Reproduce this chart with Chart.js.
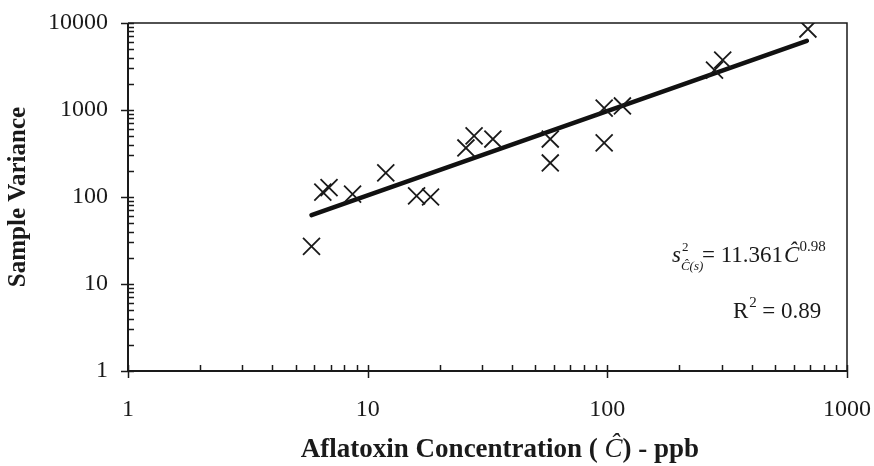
<!DOCTYPE html>
<html>
<head>
<meta charset="utf-8">
<script src="https://cdn.jsdelivr.net/npm/chart.js@4.4.1/dist/chart.umd.min.js"></script>
<style>
  html, body { margin: 0; padding: 0; background: #fff; }
  #wrap { width: 874px; height: 466px; position: relative; }
</style>
</head>
<body>
<div id="wrap"><canvas id="grafico"></canvas></div>
<script>
// puntos
const concentracion = [5.83, 6.5, 6.9, 8.65, 11.9, 16.0, 18.3, 25.7, 27.8, 33.3, 57.8, 57.8, 97, 97, 115.6, 280, 303, 687];
const varianza = [27, 114, 128, 108, 189, 103, 100, 366, 503, 464, 464, 246, 1053, 418, 1112, 2880, 3756, 8530];

// recta de ajuste (extremos leidos)
const ajusteX = [5.83, 680];
const ajusteY = [62, 6250];

const ticksX = [1, 10, 100, 1000];
const ticksY = [1, 10, 100, 1000, 10000];

const serif = '"Liberation Serif", "Times New Roman", serif';
const ink = '#1a1a1a';

function decadas(scale, vals) {
    scale.ticks = vals.map(v => ({ value: v }));
}

// marcas de graduacion hacia dentro + recuadro + ecuacion + titulo x
const marcasPlugin = {
    id: 'marcas',
    afterDraw(chart) {
        const ctx = chart.ctx;
        const a = chart.chartArea;
        const sx = chart.scales.x, sy = chart.scales.y;
        ctx.save();
        ctx.strokeStyle = ink;

        // recuadro
        ctx.lineWidth = 1.5;
        ctx.beginPath();
        ctx.moveTo(a.left, a.top); ctx.lineTo(a.right, a.top); ctx.lineTo(a.right, a.bottom);
        ctx.stroke();
        ctx.lineWidth = 2;
        ctx.beginPath();
        ctx.moveTo(a.left, a.top); ctx.lineTo(a.left, a.bottom); ctx.lineTo(a.right, a.bottom);
        ctx.stroke();

        ctx.lineWidth = 1.5;
        // eje x
        for (let d = 0; d < ticksX.length; d++) {
            const base = ticksX[d];
            const px = Math.round(sx.getPixelForValue(base)) + 0.5;
            ctx.beginPath(); ctx.moveTo(px, a.bottom - 6); ctx.lineTo(px, a.bottom + 7); ctx.stroke();
            if (d === ticksX.length - 1) break;
            for (let k = 2; k <= 9; k++) {
                const p = Math.round(sx.getPixelForValue(base * k)) + 0.5;
                ctx.beginPath(); ctx.moveTo(p, a.bottom); ctx.lineTo(p, a.bottom - 6); ctx.stroke();
            }
        }
        // eje y
        for (let d = 0; d < ticksY.length; d++) {
            const base = ticksY[d];
            const py = Math.round(sy.getPixelForValue(base)) + 0.5;
            ctx.beginPath(); ctx.moveTo(a.left - 7, py); ctx.lineTo(a.left + 6, py); ctx.stroke();
            if (d === ticksY.length - 1) break;
            for (let k = 2; k <= 9; k++) {
                const p = Math.round(sy.getPixelForValue(base * k)) + 0.5;
                ctx.beginPath(); ctx.moveTo(a.left, p); ctx.lineTo(a.left + 6, p); ctx.stroke();
            }
        }

        // ecuacion
        ctx.fillStyle = ink;
        ctx.textBaseline = 'alphabetic';
        let x = 672, y = 262;
        ctx.font = 'italic 23px ' + serif;
        ctx.fillText('s', x, y);
        const ws = ctx.measureText('s').width;
        ctx.font = '13px ' + serif;
        ctx.fillText('2', x + ws + 1, y - 11);
        ctx.font = 'italic 13px ' + serif;
        ctx.fillText('Ĉ(s)', x + ws, y + 8);
        x = 702;
        ctx.font = '23px ' + serif;
        const t1 = '= 11.361';
        ctx.fillText(t1, x, y);
        x += ctx.measureText(t1).width + 1;
        ctx.font = 'italic 23px ' + serif;
        ctx.fillText('Ĉ', x, y);
        x += ctx.measureText('Ĉ').width;
        ctx.font = '15px ' + serif;
        ctx.fillText('0.98', x, y - 11);

        // R2
        y = 318;
        ctx.font = '23px ' + serif;
        ctx.fillText('R', 733, y);
        const wr = ctx.measureText('R').width;
        ctx.font = '15px ' + serif;
        ctx.fillText('2', 733 + wr + 1, y - 11);
        ctx.font = '23px ' + serif;
        ctx.fillText('= 0.89', 733 + wr + 14, y);

        // titulo eje x (con C circunflejo en cursiva)
        const partes = [
            ['bold 27px ' + serif, 'Aflatoxin Concentration ( '],
            ['italic 27px ' + serif, 'Ĉ'],
            ['bold 27px ' + serif, ') - ppb']
        ];
        let total = 0;
        partes.forEach(p => { ctx.font = p[0]; total += ctx.measureText(p[1]).width; });
        x = 500 - total / 2;
        y = 457;
        partes.forEach(p => {
            ctx.font = p[0];
            ctx.fillText(p[1], x, y);
            x += ctx.measureText(p[1]).width;
        });
        ctx.restore();
    }
};

new Chart(document.getElementById('grafico').getContext('2d'), {
    data: {
        datasets: [{
            type: 'scatter',
            label: 'Varianza',
            data: concentracion.map((c, i) => ({ x: c, y: varianza[i] })),
            pointStyle: 'crossRot',
            pointRadius: 12,
            pointBorderWidth: 1.8,
            borderColor: ink,
            backgroundColor: ink
        }, {
            type: 'line',
            label: 'Ajuste',
            data: ajusteX.map((c, i) => ({ x: c, y: ajusteY[i] })),
            borderColor: '#111',
            borderWidth: 4.5,
            pointRadius: 0,
            borderCapStyle: 'round'
        }]
    },
    options: {
        responsive: true,
        maintainAspectRatio: false,
        animation: false,
        layout: { padding: { top: 23, right: 27, left: 0, bottom: 0 } },
        plugins: { legend: { display: false }, tooltip: { enabled: false } },
        scales: {
            x: {
                type: 'logarithmic',
                min: 1, max: 1000,
                afterBuildTicks: s => decadas(s, ticksX),
                afterFit: s => { s.height = 95; s.paddingLeft = 0; s.paddingRight = 0; },
                grid: { display: false, drawTicks: false },
                border: { display: false },
                ticks: {
                    color: ink,
                    font: { family: serif, size: 24 },
                    padding: 24,
                    maxRotation: 0,
                    callback: v => String(v)
                },
                title: { display: false }
            },
            y: {
                type: 'logarithmic',
                min: 1, max: 10000,
                afterBuildTicks: s => decadas(s, ticksY),
                afterFit: s => { s.width = 128; s.paddingTop = 0; s.paddingBottom = 0; },
                grid: { display: false, drawTicks: false },
                border: { display: false },
                ticks: {
                    color: ink,
                    font: { family: serif, size: 24 },
                    padding: 20,
                    callback: v => String(v)
                },
                title: {
                    display: true,
                    text: 'Sample Variance',
                    color: ink,
                    font: { family: serif, size: 25, weight: 'bold' },
                    padding: { top: 4, bottom: 0 }
                }
            }
        }
    },
    plugins: [marcasPlugin]
});
</script>
</body>
</html>
